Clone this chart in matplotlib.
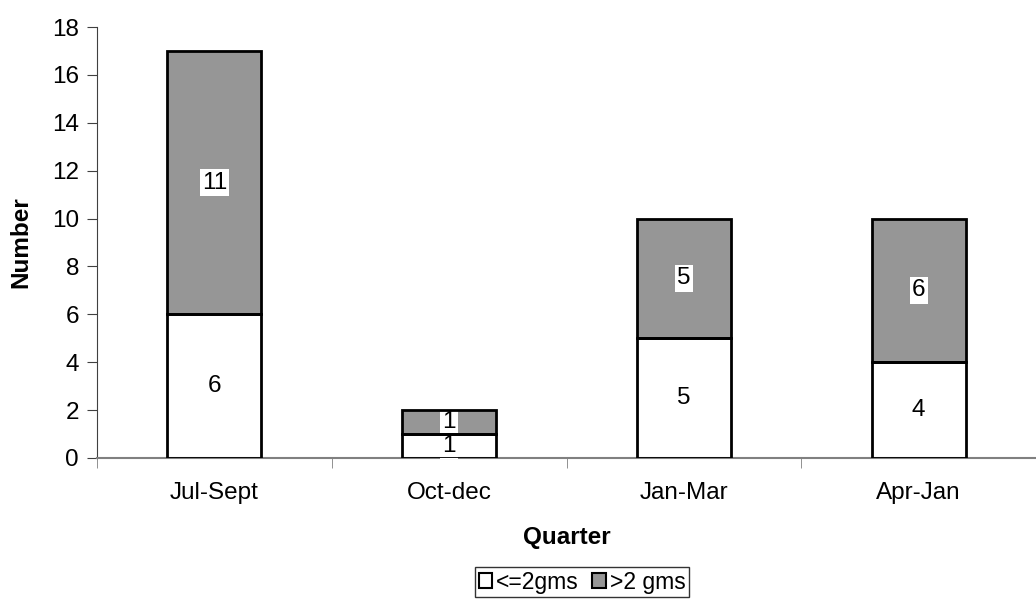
import matplotlib
matplotlib.use("Agg")
import matplotlib.pyplot as plt
from matplotlib.patches import Patch
import numpy as np

categories = ["Jul-Sept", "Oct-dec", "Jan-Mar", "Apr-Jan"]
small = [6, 1, 5, 4]
large = [11, 1, 5, 6]
series_names = ["<=2gms", ">2 gms"]

plt.rcParams['font.family'] = ['Liberation Sans', 'DejaVu Sans']
FS = 17.5

fig = plt.figure(figsize=(10.36, 6.14), dpi=100)
W, H = 1036, 614
left, right, top, bottom = 97, 1036, 27, 458
ax = fig.add_axes([left / W, 1 - bottom / H, (right - left) / W, (bottom - top) / H])

x = np.arange(len(categories))
bw = 0.4
ax.bar(x, small, bw, color="white", edgecolor="none", zorder=2)
ax.bar(x, large, bw, bottom=small, color="#969696", edgecolor="none", zorder=2)
ax.bar(x, small, bw, fill=False, edgecolor="black", linewidth=2, zorder=4)
ax.bar(x, large, bw, bottom=small, fill=False, edgecolor="black", linewidth=2, zorder=4)

for xi, s, l in zip(x, small, large):
    ax.text(xi, s / 2, str(s), ha="center", va="center", fontsize=FS, zorder=3,
            bbox=dict(facecolor="white", edgecolor="none", pad=1.5))
    ax.text(xi, s + l / 2, str(l), ha="center", va="center", fontsize=FS, zorder=3,
            bbox=dict(facecolor="white", edgecolor="none", pad=1.5))

ax.set_xlim(-0.5, (right - left) / 238 - 0.5)
ax.set_ylim(0, 18)
ax.set_yticks(range(0, 19, 2))
ax.set_xticks(x)
ax.set_xticklabels(categories)
ax.set_xticks(np.arange(-0.5, 4, 1), minor=True)
ax.tick_params(axis="x", which="major", length=0, labelsize=FS, pad=17)
ax.tick_params(axis="x", which="minor", length=7, direction="out", color="#808080")
ax.tick_params(axis="y", length=7, direction="out", labelsize=FS, color="#404040", pad=6)

for s in ["top", "right"]:
    ax.spines[s].set_visible(False)
ax.spines["bottom"].set_color("#808080")
ax.spines["bottom"].set_linewidth(1.5)
ax.spines["left"].set_color("#404040")

ax.set_ylabel("Number", fontsize=FS, fontweight="bold", labelpad=14)
ax.set_xlabel("Quarter", fontsize=FS, fontweight="bold", labelpad=16)

handles = [Patch(facecolor="white", edgecolor="black", linewidth=1.5),
           Patch(facecolor="#969696", edgecolor="black", linewidth=1.5)]
leg = fig.legend(handles, series_names, loc="center", bbox_to_anchor=(582 / W, 1 - 582 / H),
                 ncol=2, fontsize=16.5, frameon=True, fancybox=False, handlelength=0.6,
                 handleheight=0.6, handletextpad=0.15, columnspacing=0.6, borderpad=0.15,
                 borderaxespad=0)
leg.get_frame().set_edgecolor("black")
leg.get_frame().set_linewidth(1)

fig.savefig("out.png", dpi=100)
